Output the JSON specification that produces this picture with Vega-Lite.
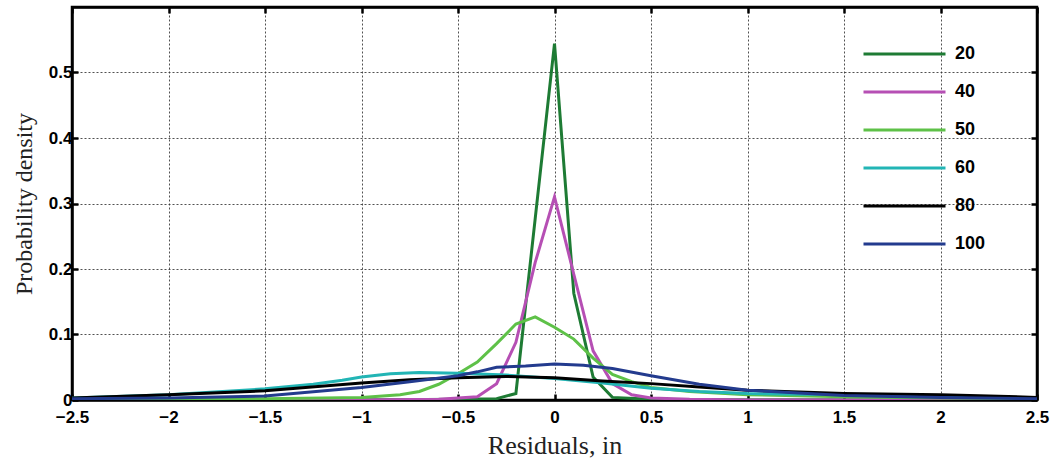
{
  "$schema": "https://vega.github.io/schema/vega-lite/v6.json",
  "autosize": "none",
  "width": 965,
  "height": 393,
  "padding": {"left": 72, "top": 7, "right": 19, "bottom": 70},
  "background": "white",
  "config": {
    "view": {"stroke": "black", "strokeWidth": 2.5},
    "axis": {
      "domainColor": "black", "domainWidth": 2.5,
      "tickColor": "black", "tickWidth": 2.5,
      "gridColor": "#333", "gridDash": [2, 2], "gridWidth": 1, "gridOpacity": 0.85,
      "labelFont": "Liberation Sans", "labelFontWeight": "bold", "labelFontSize": 17, "labelColor": "black",
      "labelFlush": false, "labelOverlap": false,
      "titleFont": "Liberation Serif", "titleFontWeight": "normal", "titleFontSize": 24, "titleColor": "#222"
    }
  },
  "data": {"values": [
    {"series": "20", "x": -2.5, "y": 0}, {"series": "20", "x": -1, "y": 0}, {"series": "20", "x": -0.5, "y": 0.001}, {"series": "20", "x": -0.3, "y": 0.002}, {"series": "20", "x": -0.2, "y": 0.01}, {"series": "20", "x": -0.1, "y": 0.277}, {"series": "20", "x": 0, "y": 0.544}, {"series": "20", "x": 0.1, "y": 0.163}, {"series": "20", "x": 0.2, "y": 0.035}, {"series": "20", "x": 0.3, "y": 0.004}, {"series": "20", "x": 0.5, "y": 0.001}, {"series": "20", "x": 1, "y": 0}, {"series": "20", "x": 2.5, "y": 0},
    {"series": "40", "x": -2.5, "y": 0}, {"series": "40", "x": -1, "y": 0}, {"series": "40", "x": -0.6, "y": 0.001}, {"series": "40", "x": -0.4, "y": 0.005}, {"series": "40", "x": -0.3, "y": 0.025}, {"series": "40", "x": -0.2, "y": 0.088}, {"series": "40", "x": -0.1, "y": 0.21}, {"series": "40", "x": 0, "y": 0.31}, {"series": "40", "x": 0.1, "y": 0.192}, {"series": "40", "x": 0.2, "y": 0.075}, {"series": "40", "x": 0.3, "y": 0.025}, {"series": "40", "x": 0.4, "y": 0.008}, {"series": "40", "x": 0.5, "y": 0.003}, {"series": "40", "x": 0.7, "y": 0.001}, {"series": "40", "x": 1, "y": 0}, {"series": "40", "x": 2.5, "y": 0},
    {"series": "50", "x": -2.5, "y": 0.001}, {"series": "50", "x": -2, "y": 0.001}, {"series": "50", "x": -1.5, "y": 0.002}, {"series": "50", "x": -1, "y": 0.004}, {"series": "50", "x": -0.8, "y": 0.008}, {"series": "50", "x": -0.7, "y": 0.013}, {"series": "50", "x": -0.6, "y": 0.024}, {"series": "50", "x": -0.5, "y": 0.04}, {"series": "50", "x": -0.4, "y": 0.058}, {"series": "50", "x": -0.3, "y": 0.086}, {"series": "50", "x": -0.2, "y": 0.116}, {"series": "50", "x": -0.1, "y": 0.127}, {"series": "50", "x": 0, "y": 0.111}, {"series": "50", "x": 0.1, "y": 0.093}, {"series": "50", "x": 0.2, "y": 0.064}, {"series": "50", "x": 0.3, "y": 0.039}, {"series": "50", "x": 0.4, "y": 0.028}, {"series": "50", "x": 0.5, "y": 0.019}, {"series": "50", "x": 0.7, "y": 0.013}, {"series": "50", "x": 1, "y": 0.008}, {"series": "50", "x": 1.5, "y": 0.005}, {"series": "50", "x": 2, "y": 0.003}, {"series": "50", "x": 2.5, "y": 0.002},
    {"series": "60", "x": -2.5, "y": 0.003}, {"series": "60", "x": -2, "y": 0.008}, {"series": "60", "x": -1.5, "y": 0.017}, {"series": "60", "x": -1.25, "y": 0.024}, {"series": "60", "x": -1.1, "y": 0.03}, {"series": "60", "x": -1, "y": 0.035}, {"series": "60", "x": -0.85, "y": 0.04}, {"series": "60", "x": -0.7, "y": 0.042}, {"series": "60", "x": -0.5, "y": 0.041}, {"series": "60", "x": -0.25, "y": 0.038}, {"series": "60", "x": 0, "y": 0.033}, {"series": "60", "x": 0.25, "y": 0.026}, {"series": "60", "x": 0.5, "y": 0.018}, {"series": "60", "x": 0.75, "y": 0.013}, {"series": "60", "x": 1, "y": 0.01}, {"series": "60", "x": 1.5, "y": 0.008}, {"series": "60", "x": 2, "y": 0.006}, {"series": "60", "x": 2.5, "y": 0.003},
    {"series": "80", "x": -2.5, "y": 0.003}, {"series": "80", "x": -2, "y": 0.008}, {"series": "80", "x": -1.5, "y": 0.014}, {"series": "80", "x": -1, "y": 0.026}, {"series": "80", "x": -0.75, "y": 0.031}, {"series": "80", "x": -0.5, "y": 0.034}, {"series": "80", "x": -0.25, "y": 0.036}, {"series": "80", "x": 0, "y": 0.034}, {"series": "80", "x": 0.25, "y": 0.029}, {"series": "80", "x": 0.5, "y": 0.025}, {"series": "80", "x": 0.75, "y": 0.02}, {"series": "80", "x": 1, "y": 0.015}, {"series": "80", "x": 1.5, "y": 0.01}, {"series": "80", "x": 2, "y": 0.008}, {"series": "80", "x": 2.5, "y": 0.004},
    {"series": "100", "x": -2.5, "y": 0.002}, {"series": "100", "x": -2, "y": 0.003}, {"series": "100", "x": -1.5, "y": 0.006}, {"series": "100", "x": -1, "y": 0.019}, {"series": "100", "x": -0.75, "y": 0.028}, {"series": "100", "x": -0.5, "y": 0.037}, {"series": "100", "x": -0.4, "y": 0.043}, {"series": "100", "x": -0.3, "y": 0.05}, {"series": "100", "x": -0.15, "y": 0.052}, {"series": "100", "x": 0, "y": 0.055}, {"series": "100", "x": 0.15, "y": 0.053}, {"series": "100", "x": 0.3, "y": 0.048}, {"series": "100", "x": 0.5, "y": 0.037}, {"series": "100", "x": 0.75, "y": 0.024}, {"series": "100", "x": 1, "y": 0.015}, {"series": "100", "x": 1.5, "y": 0.007}, {"series": "100", "x": 2, "y": 0.004}, {"series": "100", "x": 2.5, "y": 0.002}
  ]},
  "layer": [
    {
      "mark": {"type": "line", "strokeWidth": 3, "clip": true},
      "encoding": {
        "x": {
          "field": "x", "type": "quantitative",
          "scale": {"domain": [-2.5, 2.5], "nice": false, "zero": false},
          "axis": {
            "orient": "bottom",
            "values": [-2.5, -2, -1.5, -1, -0.5, 0, 0.5, 1, 1.5, 2, 2.5],
            "format": "~g", "grid": true, "tickSize": -6, "labelPadding": 15,
            "title": "Residuals, in", "titleFontSize": 26, "titlePadding": 7
          }
        },
        "y": {
          "field": "y", "type": "quantitative",
          "scale": {"domain": [0, 0.6], "nice": false},
          "axis": {
            "orient": "left",
            "values": [0, 0.1, 0.2, 0.3, 0.4, 0.5],
            "format": "~g", "grid": true, "tickSize": -6, "labelPadding": 6,
            "title": "Probability density", "titlePadding": 12
          }
        },
        "color": {
          "field": "series", "type": "nominal",
          "scale": {"domain": ["20", "40", "50", "60", "80", "100"], "range": ["#1e7b34", "#b64fb4", "#5ec148", "#22b5b5", "#000000", "#233b8e"]},
          "legend": {
            "orient": "none", "legendX": 790, "legendY": 37, "title": null,
            "symbolType": "stroke", "symbolSize": 6724, "symbolStrokeWidth": 3,
            "clipHeight": 20, "rowPadding": 18, "padding": 0, "labelOffset": 8,
            "labelFont": "Liberation Sans", "labelFontWeight": "bold", "labelFontSize": 18, "labelColor": "black"
          }
        }
      }
    },
    {
      "mark": {"type": "line", "opacity": 0},
      "encoding": {
        "x": {
          "field": "x", "type": "quantitative",
          "axis": {"orient": "top", "values": [-2.5, -2, -1.5, -1, -0.5, 0, 0.5, 1, 1.5, 2, 2.5], "labels": false, "grid": false, "tickSize": -6, "title": null}
        },
        "y": {
          "field": "y", "type": "quantitative",
          "axis": {"orient": "right", "values": [0, 0.1, 0.2, 0.3, 0.4, 0.5], "labels": false, "grid": false, "tickSize": -6, "title": null}
        },
        "detail": {"field": "series", "type": "nominal"}
      }
    }
  ],
  "resolve": {"axis": {"x": "independent", "y": "independent"}}
}
